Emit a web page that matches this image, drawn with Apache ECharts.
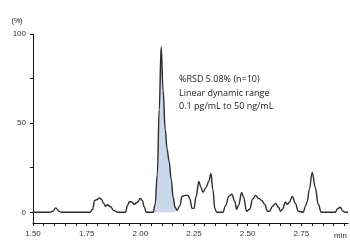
<!DOCTYPE html>
<html><head><meta charset="utf-8">
<script src="https://cdn.jsdelivr.net/npm/echarts@6/dist/echarts.min.js"></script>
<style>html,body{margin:0;padding:0;background:#fff}#c{width:350px;height:240px}</style>
</head><body><div id="c"></div>
<script>
var times = [1.500,1.579,1.593,1.606,1.620,1.634,1.764,1.778,1.787,1.796,1.810,1.819,1.829,1.838,1.847,1.861,1.875,1.894,
  1.931,1.940,1.949,1.958,1.972,1.986,2.000,2.009,2.019,2.028,2.060,2.069,2.079,2.088,2.097,2.106,2.116,2.125,2.134,2.144,
  2.153,2.162,2.171,2.185,2.194,2.208,2.222,2.231,2.241,2.250,2.259,2.273,2.282,2.292,2.306,2.319,2.329,2.338,2.347,2.356,
  2.384,2.398,2.412,2.426,2.440,2.449,2.458,2.472,2.481,2.495,2.509,2.523,2.537,2.551,2.565,2.579,2.593,2.602,2.616,2.630,
  2.644,2.653,2.662,2.676,2.685,2.694,2.708,2.722,2.736,2.759,2.769,2.778,2.787,2.801,2.815,2.829,2.843,2.907,2.921,2.931,
  2.944,2.954,2.968];
var intensity = [0,0,0.6,2.5,0.6,0,0,1.7,6.7,7.0,8.1,7.3,5.0,3.4,4.2,3.1,1.1,0,
  0,3.9,5.9,5.9,4.5,5.6,7.8,6.7,2.8,0,0,4.5,21.2,57.5,92.7,68.7,46.4,35.2,28.5,18.4,
  8.4,2.8,1.1,3.9,8.9,9.5,9.5,7.3,2.2,2.2,8.4,17.3,14.0,11.2,14.0,17.3,21.8,12.8,2.2,0,
  0,3.9,8.9,10.1,6.1,1.7,3.9,11.2,8.4,0.6,1.7,7.3,9.5,7.8,6.7,4.5,0.6,0.6,3.4,5.0,
  2.8,0.6,1.7,5.6,4.5,5.6,8.9,5.0,0.6,0,3.4,6.1,12.8,22.3,14.0,4.5,0,0,2.2,2.8,
  0.6,0,0];
var peakStart = 2.060, peakEnd = 2.171;
var xLabels = [1.50, 1.75, 2.00, 2.25, 2.50, 2.75];
var xTicks = [1.50,1.55,1.60,1.65,1.70,1.75,1.80,1.85,1.90,1.95,2.00,2.05,2.10,2.15,2.20,2.25,2.30,2.35,
  2.40,2.45,2.50,2.55,2.60,2.65,2.70,2.75,2.80,2.85,2.90,2.95];
var yLabels = [0, 50, 100];
var yTicks = [0, 25, 50, 75, 100];
var noteLines = ['%RSD 5.08% (n=10)', 'Linear dynamic range', '0.1 pg/mL to 50 ng/mL'];

var all = times.map(function(t,i){return [t, intensity[i]];});
var peak = all.filter(function(p){return p[0] >= peakStart - 1e-9 && p[0] <= peakEnd + 1e-9;});

var chart = echarts.init(document.getElementById('c'), null, {renderer:'canvas'});
var axisFont = {fontFamily:'Liberation Sans, Arial, sans-serif', fontSize:8, color:'#333'};
chart.setOption({
  animation:false,
  grid:{left:33, right:0, top:34, bottom:16, containLabel:false},
  xAxis:{
    type:'value', min:1.5, max:2.968, interval:0.05,
    name:'min', nameLocation:'end', nameGap:-14,
    nameTextStyle:Object.assign({align:'left', verticalAlign:'top', padding:[9,0,0,0]}, axisFont),
    axisLine:{show:true, onZero:false, lineStyle:{color:'#111', width:1}},
    axisTick:{show:true, length:3, customValues:xTicks, lineStyle:{color:'#111'}},
    splitLine:{show:false},
    axisLabel:Object.assign({margin:7, customValues:xLabels, formatter:function(v){return v.toFixed(2);}}, axisFont)
  },
  yAxis:{
    type:'value', min:-6, max:100,
    name:'(%)', nameLocation:'end', nameGap:9,
    nameTextStyle:Object.assign({align:'center', padding:[0,0,0,-32]}, axisFont, {fontSize:7, color:'#111'}),
    axisLine:{show:true, onZero:false, lineStyle:{color:'#111', width:1}},
    axisTick:{show:true, length:3, customValues:yTicks, lineStyle:{color:'#111'}},
    splitLine:{show:false},
    axisLabel:Object.assign({margin:7, customValues:yLabels}, axisFont)
  },
  graphic:[{
    type:'text', left:179, top:73,
    style:{text:noteLines.join('\n'), font:'9px "Open Sans", sans-serif', fill:'#1a1a1a', lineHeight:13.5}
  }],
  series:[
    {type:'line', data:peak, smooth:0.4, showSymbol:false, lineStyle:{width:0},
     areaStyle:{color:'#cbd8eb', opacity:1}, z:1, silent:true},
    {type:'line', data:all, smooth:0.4, smoothMonotone:'x', showSymbol:false,
     lineStyle:{color:'#2b2b2b', width:1.4}, z:2}
  ]
});
</script></body></html>
